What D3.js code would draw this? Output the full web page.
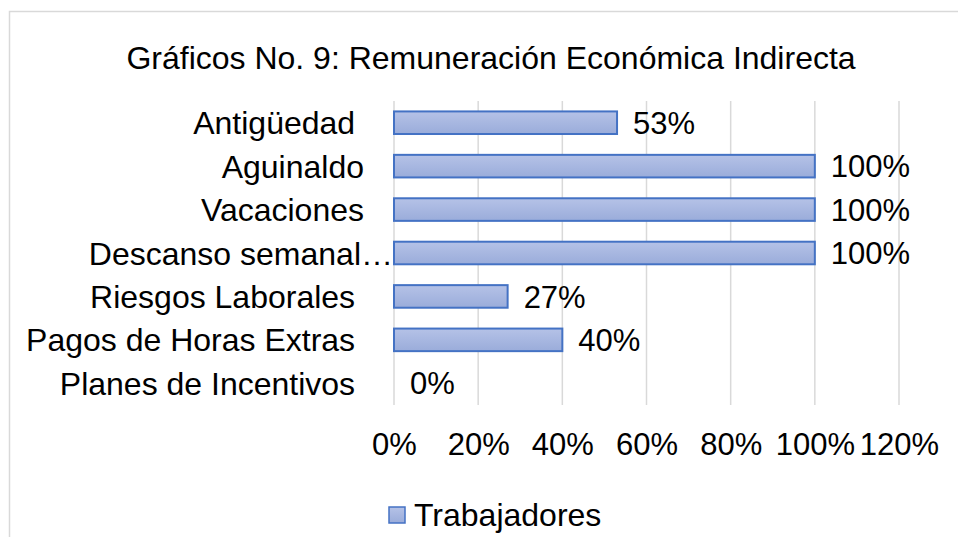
<!DOCTYPE html>
<html>
<head>
<meta charset="utf-8">
<script src="https://cdn.jsdelivr.net/npm/d3@7"></script>
<style>
  body { margin: 0; background: #ffffff; }
  text { font-family: "Liberation Sans", Arial, sans-serif; fill: #000000; }
</style>
</head>
<body>
<script>
(function(){

    //chart data
    var categories = ["Antigüedad ", "Aguinaldo", "Vacaciones", "Descanso semanal…", "Riesgos Laborales ", "Pagos de Horas Extras ", "Planes de Incentivos "];
    var values = [0.53, 1.00, 1.00, 1.00, 0.27, 0.40, 0.00];
    var tickValues = [0, 0.2, 0.4, 0.6, 0.8, 1.0, 1.2];
    var seriesName = "Trabajadores";
    var title = "Gráficos No. 9: Remuneración Económica Indirecta";

    var width = 958,
        height = 537;

    var svg = d3.select("body")
        .append("svg")
        .attr("width", width)
        .attr("height", height);

    //gradient for bar fill
    var grad = svg.append("defs").append("linearGradient")
        .attr("id", "barGrad")
        .attr("x1", 0).attr("y1", 0).attr("x2", 0).attr("y2", 1);
    grad.append("stop").attr("offset", "0%").attr("stop-color", "#b5c2e7");
    grad.append("stop").attr("offset", "100%").attr("stop-color", "#9aacda");

    //chart frame (left and top edges only visible)
    svg.append("path")
        .attr("d", "M9.5,537V11.5H958")
        .attr("fill", "none")
        .attr("stroke", "#d9d9d9")
        .attr("stroke-width", 1.5);

    //title
    svg.append("text")
        .attr("x", 491)
        .attr("y", 69)
        .attr("text-anchor", "middle")
        .style("font-size", "32px")
        .text(title);

    //scales
    var x = d3.scaleLinear()
        .domain([0, 1.2])
        .range([394, 899]);

    var y = d3.scaleBand()
        .domain(categories)
        .range([101, 405])
        .paddingInner(0.48)
        .paddingOuter(0.24);

    //gridlines
    svg.selectAll(".grid")
        .data(tickValues)
        .enter()
        .append("line")
        .attr("class", "grid")
        .attr("x1", function(d){ return x(d); })
        .attr("x2", function(d){ return x(d); })
        .attr("y1", 101)
        .attr("y2", 405)
        .attr("stroke", "#d9d9d9")
        .attr("stroke-width", 1.5);

    //bars
    svg.selectAll(".bar")
        .data(values)
        .enter()
        .append("rect")
        .attr("class", "bar")
        .attr("x", x(0))
        .attr("y", function(d, i){ return y(categories[i]); })
        .attr("width", function(d){ return x(d) - x(0); })
        .attr("height", y.bandwidth())
        .attr("fill", "url(#barGrad)")
        .attr("stroke", "#4472c4")
        .attr("stroke-width", function(d){ return d > 0 ? 2 : 0; });

    //data labels
    svg.selectAll(".dlabel")
        .data(values)
        .enter()
        .append("text")
        .attr("class", "dlabel")
        .attr("x", function(d){ return x(d) + 16; })
        .attr("y", function(d, i){ return y(categories[i]) + y.bandwidth() / 2; })
        .attr("dy", "0.36em")
        .style("font-size", "31px")
        .text(function(d){ return d3.format(".0%")(d); });

    //category labels
    svg.selectAll(".clabel")
        .data(categories)
        .enter()
        .append("text")
        .attr("class", "clabel")
        .attr("xml:space", "preserve")
        .attr("x", function(d){ return d.slice(-1) == "…" ? x(0) - 1 : 364; })
        .attr("y", function(d){ return y(d) + y.bandwidth() / 2; })
        .attr("dy", "0.36em")
        .attr("text-anchor", "end")
        .style("font-size", "32px")
        .style("white-space", "pre")
        .text(function(d){ return d; });

    //x axis labels
    var xAxis = d3.axisBottom(x)
        .tickValues(tickValues)
        .tickFormat(d3.format(".0%"))
        .tickSize(0)
        .tickPadding(0);

    var axis = svg.append("g")
        .attr("transform", "translate(0,455)")
        .call(xAxis);
    axis.select(".domain").remove();
    axis.selectAll("text")
        .attr("dy", "0em")
        .style("font-size", "31px")
        .style("font-family", "Liberation Sans, Arial, sans-serif")
        .attr("fill", "#000");

    //legend
    svg.append("rect")
        .attr("x", 389)
        .attr("y", 507)
        .attr("width", 16)
        .attr("height", 16)
        .attr("fill", "url(#barGrad)")
        .attr("stroke", "#4472c4")
        .attr("stroke-width", 1.5);

    svg.append("text")
        .attr("x", 414)
        .attr("y", 526)
        .style("font-size", "32px")
        .text(seriesName);

})();
</script>
</body>
</html>
